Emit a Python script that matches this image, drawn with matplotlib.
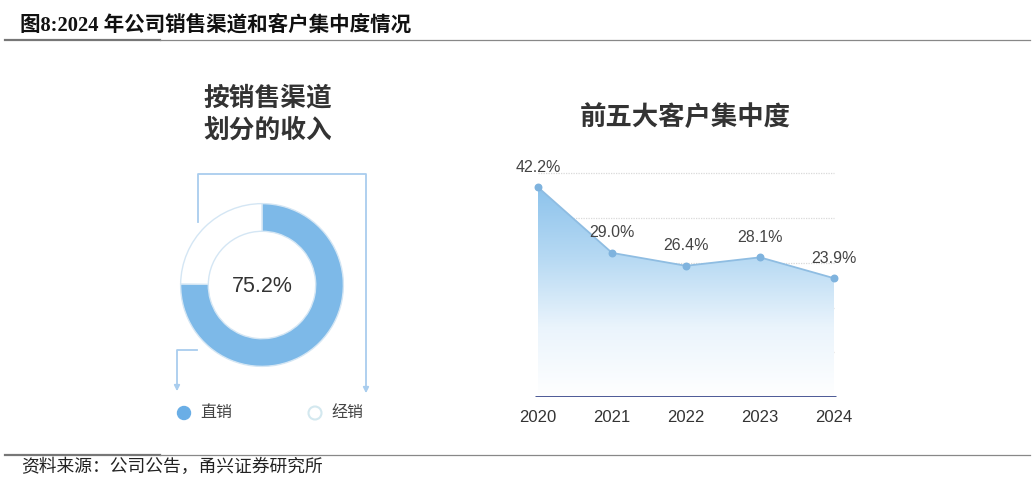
import matplotlib
matplotlib.use("Agg")
import matplotlib.pyplot as plt
import numpy as np
from matplotlib.colors import LinearSegmentedColormap
from matplotlib.patches import Polygon, Circle

plt.rcParams['font.family'] = ['Liberation Sans', 'Noto Sans CJK SC', 'DejaVu Sans']

# data
channels = ["直销", "经销"]
channel_share = [75.2, 24.8]
years = ["2020", "2021", "2022", "2023", "2024"]
top5_share = [42.2, 29.0, 26.4, 28.1, 23.9]

W, H = 1032, 482
fig = plt.figure(figsize=(W / 100, H / 100), dpi=100)

# overlay axes in pixel coordinates for decorations
bg = fig.add_axes([0, 0, 1, 1])
bg.set_xlim(0, W)
bg.set_ylim(H, 0)
bg.axis("off")

bg.text(20, 25, "图8:2024 年公司销售渠道和客户集中度情况", fontsize=14.8, fontweight="bold",
        family=["Liberation Serif", "Noto Sans CJK SC"], va="center", ha="left", color="#111")
bg.plot([5, 160], [40, 40], color="#777", lw=1.6)
bg.plot([160, 1030], [40, 40], color="#888", lw=0.9)
bg.plot([5, 160], [455, 455], color="#777", lw=1.6)
bg.plot([160, 1030], [455, 455], color="#888", lw=0.9)
bg.text(21, 467, "资料来源：公司公告，甬兴证券研究所", fontsize=12.8, va="center", ha="left", color="#222")

# donut title
bg.text(268, 114, "按销售渠道\n划分的收入", fontsize=18.5, fontweight="bold", color="#333",
        ha="center", va="center", linespacing=1.42)

# bracket arrows
lc = "#a9cdee"
bg.plot([198, 198, 366, 366], [222, 174, 174, 388], color=lc, lw=1.3)
bg.annotate("", xy=(366, 396), xytext=(366, 385),
            arrowprops=dict(arrowstyle="-|>", color=lc, lw=1.3, mutation_scale=8))
bg.plot([197, 177, 177], [350, 350, 386], color=lc, lw=1.3)
bg.annotate("", xy=(177, 394), xytext=(177, 383),
            arrowprops=dict(arrowstyle="-|>", color=lc, lw=1.3, mutation_scale=8))

# legend
bg.add_patch(Circle((184, 413), 6.5, color="#6aaee6"))
bg.text(200, 413, channels[0], fontsize=11.5, color="#444", va="center", ha="left")
bg.add_patch(Circle((315, 413), 6.5, facecolor="white", edgecolor="#d3e8ef", lw=1.5))
bg.text(331, 413, channels[1], fontsize=11.5, color="#444", va="center", ha="left")

# donut
cx, cy, r = 262, 285, 83
dax = fig.add_axes([(cx - r) / W, (H - cy - r) / H, 2 * r / W, 2 * r / H])
dax.pie(channel_share, colors=["#7db9e8", "white"], startangle=90, counterclock=False,
        radius=1, wedgeprops=dict(width=0.34, edgecolor="#d4e6f4", linewidth=1.0))
dax.set_xlim(-1.02, 1.02)
dax.set_ylim(-1.02, 1.02)
dax.text(0.0, -0.02, f"{channel_share[0]}%", fontsize=15.5, color="#333", ha="center", va="center")

# line chart
x0_px, x1_px = 500, 870
unit = 74.0
yb_px, yt_px = 397, 150
ppu = 4.97
lax = fig.add_axes([x0_px / W, (H - yb_px) / H, (x1_px - x0_px) / W, (yb_px - yt_px) / H])
xmin = -(538 - x0_px) / unit
xmax = 4 + (x1_px - 834) / unit
lax.set_xlim(xmin, xmax)
lax.set_ylim(0, (yb_px - yt_px) / ppu)
x = np.arange(len(years))
y = np.array(top5_share)

for g in [9, 18, 27, 36, 45]:
    lax.plot([0, 4], [g, g], color="#d9d9d9", lw=0.9, ls=(0, (1, 1)), zorder=0)

cmap = LinearSegmentedColormap.from_list("g", ["#ffffff", "#eaf4fc", "#b6d9f3", "#8dc3ec"])
grad = np.linspace(0, 1, 256).reshape(-1, 1)
im = lax.imshow(grad, extent=[0, 4, 0, y.max()], origin="lower", aspect="auto",
                cmap=cmap, zorder=1)
poly = Polygon(np.vstack([np.column_stack([x, y]), [[4, 0], [0, 0]]]), closed=True,
               facecolor="none", edgecolor="none", transform=lax.transData)
lax.add_patch(poly)
im.set_clip_path(poly)
lax.set_xlim(xmin, xmax)

lax.plot(x, y, color="#8fbde2", lw=1.3, zorder=2)
lax.scatter(x, y, s=22, color="#7fb3de", zorder=3)
lax.plot([-0.04, 4.03], [0, 0], color="#3b4a8c", lw=2, zorder=3, solid_capstyle="butt")
for xi, yi in zip(x, y):
    lax.annotate(f"{yi:.1f}%", (xi, yi), xytext=(0, 9), textcoords="offset points",
                 ha="center", va="bottom", fontsize=11.5, color="#444")

lax.set_xticks(x, years)
lax.tick_params(axis="x", length=0, pad=9, labelsize=12, labelcolor="#333")
lax.set_yticks([])
for s in lax.spines.values():
    s.set_visible(False)

bg.text(685, 117, "前五大客户集中度", fontsize=19, fontweight="bold", color="#333",
        ha="center", va="center")

fig.savefig("out.png", dpi=100)
